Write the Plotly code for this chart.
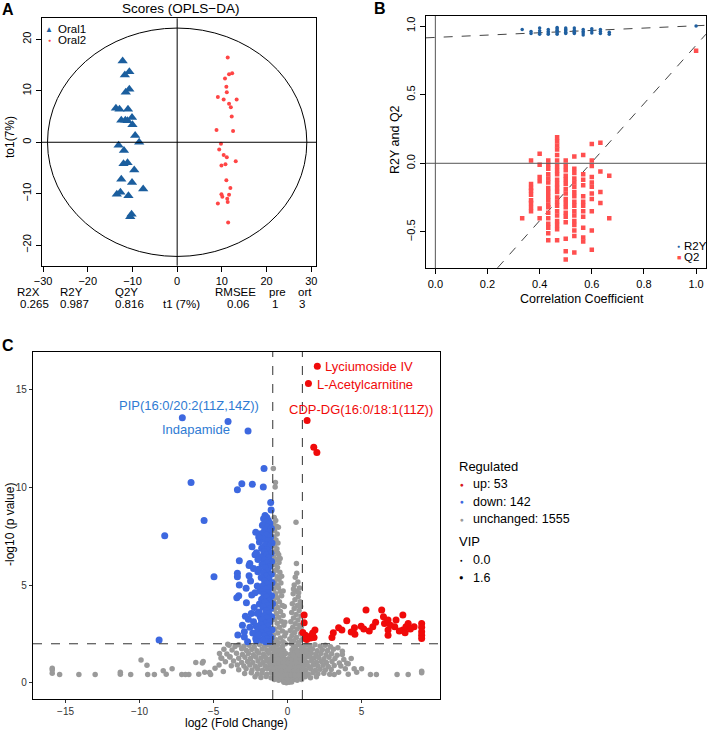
import plotly.graph_objects as go

W, H = 708, 734
FONT = "Liberation Sans, Arial, Helvetica, sans-serif"

# ---------------- Panel A: OPLS-DA scores ----------------
oral1_t1 = [-12.2, -10.7, -11.7, -10.7, -11.5, -13.7, -12.9, -11.0, -12.5, -11.6,
            -11.1, -10.1, -10.0, -9.4, -8.5, -13.1, -11.9, -12.0, -11.1, -9.6,
            -12.5, -10.1, -7.6, -13.5, -12.7, -10.9, -10.2, -10.5]
oral1_to1 = [15.8, 13.7, 13.1, 10.3, 9.7, 6.6, 6.4, 6.4, 4.3, 4.3,
             4.2, 4.8, 3.4, 1.3, 0.0, -0.6, -1.6, -4.2, -4.0, -5.4,
             -7.2, -7.8, -9.1, -10.1, -9.7, -10.4, -14.0, -14.5]
oral2_t1 = [11.3, 11.6, 12.3, 10.7, 11.0, 11.1, 9.1, 10.4, 13.3, 11.6,
            12.0, 12.2, 8.8, 12.5, 9.8, 9.4, 10.4, 11.1, 9.9, 10.8,
            13.1, 11.0, 11.9, 9.9, 10.1, 11.6, 11.2, 11.3, 9.1, 11.4]
oral2_to1 = [16.5, 13.2, 13.4, 12.4, 10.8, 9.7, 8.8, 8.3, 8.3, 7.5,
             6.8, 5.0, 2.4, 2.2, -0.3, -1.4, -2.5, -2.9, -4.5, -4.3,
             -3.7, -7.4, -8.9, -10.1, -10.6, -10.2, -11.0, -11.6, -11.9, -15.6]
ellipse_rx = 29.0
ellipse_ry = 22.2
stat_names = ["R2X", "R2Y", "Q2Y", "RMSEE", "pre", "ort"]
stat_values = ["0.265", "0.987", "0.816", "0.06", "1", "3"]

# ---------------- Panel B: permutation test ----------------
r2y_cor = [0.333, 0.367, 0.367, 0.4, 0.4, 0.4, 0.4, 0.433, 0.433, 0.433, 0.433,
           0.467, 0.467, 0.467, 0.467, 0.467, 0.467, 0.5, 0.5, 0.5, 0.5, 0.5,
           0.533, 0.533, 0.533, 0.533, 0.567, 0.567, 0.567, 0.567,
           0.6, 0.6, 0.6, 0.633, 0.633, 0.633, 0.667, 0.667, 1.0]
r2y_val = [0.975, 0.96, 0.945, 0.985, 0.965, 0.95, 0.94, 0.975, 0.96, 0.95, 0.94,
           0.99, 0.98, 0.97, 0.96, 0.95, 0.94, 0.985, 0.975, 0.965, 0.955, 0.945,
           0.985, 0.97, 0.955, 0.945, 0.975, 0.96, 0.95, 0.935,
           0.98, 0.965, 0.95, 0.975, 0.96, 0.945, 0.955, 0.94, 1.0]
q2_cor = ([0.333] + [0.367] * 9 + [0.4] * 6 + [0.433] * 18 + [0.467] * 22 +
          [0.5] * 17 + [0.533] * 17 + [0.567] * 12 + [0.6] * 11 + [0.633] * 4 +
          [0.667] * 2 + [1.0])
q2_val = [-0.40,
          0.02, -0.15, -0.18, -0.20, -0.23, -0.27, -0.29, -0.32, -0.35,
          0.07, -0.01, -0.10, -0.13, -0.33, -0.40,
          0.02, -0.01, -0.04, -0.08, -0.11, -0.14, -0.18, -0.21, -0.24, -0.27,
          -0.30, -0.32, -0.36, -0.40, -0.44, -0.47, -0.51, -0.56,
          0.19, 0.16, 0.13, 0.10, 0.06, 0.02, -0.02, -0.05, -0.08, -0.12, -0.15,
          -0.18, -0.21, -0.25, -0.28, -0.31, -0.35, -0.38, -0.42, -0.45, -0.48, -0.56,
          0.02, -0.02, -0.05, -0.09, -0.12, -0.15, -0.19, -0.22, -0.26, -0.29,
          -0.32, -0.36, -0.39, -0.43, -0.55, -0.64, -0.70,
          0.05, -0.04, -0.07, -0.11, -0.14, -0.17, -0.21, -0.24, -0.28, -0.31,
          -0.35, -0.38, -0.42, -0.45, -0.49, -0.53, -0.65,
          0.06, -0.08, -0.12, -0.16, -0.24, -0.28, -0.31, -0.35, -0.39, -0.47, -0.54, -0.57,
          0.14, 0.02, -0.02, -0.10, -0.14, -0.17, -0.22, -0.26, -0.35, -0.49, -0.63,
          0.15, -0.06, -0.21, -0.29,
          -0.09, -0.40,
          0.82]
r2y_intercept, r2y_slope = 0.917, 0.085
q2_intercept, q2_slope = -1.27, 2.13

# ---------------- Panel C: volcano ----------------
fc_threshold = 1.0
p_threshold = 2.0
regulated_names = ["up", "down", "unchanged"]
regulated_counts = [53, 142, 1555]
vip_levels = ["0.0", "1.6"]

up_points = [
    (2.01, 16.17), (1.41, 15.29), (1.32, 13.40), (1.77, 12.04), (1.98, 11.77),
    (1.12, 3.47), (1.12, 3.08), (1.21, 2.44), (1.21, 2.27), (1.42, 2.35), (1.64, 2.44),
    (1.79, 2.32), (1.85, 2.70), (1.03, 2.57), (1.55, 2.30), (1.30, 2.22), (1.70, 2.55),
    (3.00, 2.32), (3.09, 2.56), (3.45, 2.82), (3.67, 2.70), (4.00, 3.18), (4.52, 2.82),
    (4.55, 2.49), (4.97, 2.90), (5.15, 2.75), (5.30, 3.73), (5.52, 2.65), (5.76, 2.87),
    (6.36, 3.73), (6.48, 3.38), (6.55, 3.04), (6.79, 3.21), (6.79, 2.70), (6.79, 2.44),
    (7.24, 2.87), (7.33, 3.21), (7.79, 3.47), (7.79, 2.70), (7.94, 2.56), (8.00, 2.87),
    (8.15, 3.04), (8.55, 2.87), (9.06, 3.04), (9.06, 2.84), (9.06, 2.61), (9.06, 2.44),
    (9.06, 2.27), (8.30, 2.75), (7.55, 2.65), (6.95, 2.95), (5.95, 3.10), (4.30, 2.60),
]

down_points = [
    (-7.11, 13.54), (-4.02, 13.35), (-2.67, 12.87), (-1.59, 10.95), (-6.52, 10.24),
    (-3.09, 10.17), (-2.38, 10.15), (-3.39, 9.86), (-1.64, 10.00), (-1.14, 9.22),
    (-1.11, 8.83), (-5.64, 8.30), (-8.30, 7.52),
    (-4.97, 5.42), (-8.68, 2.19), (-3.26, 6.24), (-3.39, 5.60), (-3.39, 5.42), (-2.60, 6.00),
    (-2.55, 6.10), (-2.10, 6.65), (-2.20, 6.55), (-2.60, 5.47), (-3.26, 5.00), (-2.80, 4.83),
    (-3.43, 4.35), (-3.30, 4.45), (-2.78, 4.10), (-2.42, 4.49), (-2.01, 5.68), (-1.90, 4.03),
    (-3.36, 2.45), (-2.92, 2.35), (-2.92, 2.62), (-2.30, 3.13), (-2.12, 2.90), (-2.00, 2.70),
    (-1.85, 3.38), (-1.76, 3.21), (-2.15, 2.27), (-2.00, 2.35),
    (-1.52, 8.55), (-1.40, 8.45), (-1.62, 8.38), (-1.30, 8.30), (-1.48, 8.20), (-1.20, 8.15),
    (-1.70, 8.05), (-1.35, 7.95), (-1.10, 7.90), (-1.55, 7.80), (-1.25, 7.70), (-1.80, 7.62),
    (-1.42, 7.55), (-1.15, 7.45), (-1.65, 7.35), (-1.32, 7.28), (-1.90, 7.20), (-1.05, 7.15),
    (-1.50, 7.05), (-1.22, 6.95), (-1.75, 6.88), (-1.38, 6.80), (-1.60, 6.70), (-1.12, 6.62),
    (-1.45, 6.52), (-1.85, 6.45), (-1.28, 6.38), (-1.58, 6.28), (-1.08, 6.20), (-1.40, 6.12),
    (-1.72, 6.05), (-1.20, 5.95), (-1.52, 5.88), (-1.95, 5.80), (-1.33, 5.72), (-1.62, 5.62),
    (-1.10, 5.55), (-1.45, 5.45), (-1.78, 5.38), (-1.25, 5.30), (-1.55, 5.20), (-1.05, 5.12),
    (-1.38, 5.05), (-1.68, 4.95), (-1.18, 4.88), (-1.48, 4.78), (-1.88, 4.70), (-1.30, 4.62),
    (-1.60, 4.52), (-1.08, 4.45), (-1.42, 4.38), (-1.75, 4.28), (-1.22, 4.20), (-1.52, 4.12),
    (-1.02, 4.05), (-1.35, 3.95), (-1.65, 3.88), (-1.15, 3.80), (-1.45, 3.70), (-1.92, 3.62),
    (-1.28, 3.55), (-1.58, 3.45), (-1.08, 3.38), (-1.40, 3.30), (-1.72, 3.22), (-1.20, 3.12),
    (-1.50, 3.05), (-1.82, 2.98), (-1.32, 2.90), (-1.62, 2.80), (-1.05, 2.72), (-1.42, 2.65),
    (-1.75, 2.55), (-1.25, 2.48), (-1.55, 2.40), (-1.12, 2.32), (-1.38, 2.25), (-1.68, 2.18),
    (-1.20, 2.12), (-1.48, 2.10),
    (-2.45, 3.55), (-2.25, 3.85), (-2.65, 3.25), (-2.35, 2.55), (-2.55, 2.85), (-2.05, 3.55),
    (-2.20, 4.60), (-2.50, 5.20), (-2.05, 4.95), (-2.30, 5.85), (-2.00, 6.30), (-1.95, 7.45),
    (-2.10, 2.15), (-2.70, 2.10), (-3.05, 2.95), (-2.85, 3.40), (-1.98, 2.45), (-2.40, 6.95),
    (-2.15, 7.70),
]

unchanged_points = [
    # sparse, far from zero
    (-15.9, 0.75), (-15.9, 0.66), (-15.9, 0.49), (-15.4, 0.43), (-14.1, 0.43), (-13.0, 0.43),
    (-11.3, 0.55), (-11.3, 0.45), (-10.6, 0.43), (-9.9, 1.17), (-9.5, 0.90), (-9.45, 0.43),
    (-9.0, 0.43), (-8.4, 0.62), (-8.2, 0.45), (-7.8, 0.72), (-7.15, 0.43), (-6.9, 0.43),
    (-6.67, 0.43), (-6.2, 1.05), (-5.76, 1.02), (-6.0, 0.45), (-5.6, 0.55), (-5.2, 0.43),
    (-5.7, 1.09), (-5.28, 0.53), (-4.9, 0.75), (-4.63, 0.92), (-4.45, 1.26), (-4.34, 0.58),
    (-4.04, 1.97), (-3.89, 1.34), (-4.6, 1.50),
    (3.15, 0.43), (3.45, 0.55), (3.9, 0.72), (4.0, 1.0), (4.3, 1.25), (4.5, 0.72), (4.67, 0.55),
    (5.0, 0.72), (5.6, 0.43), (6.0, 0.43), (7.4, 0.43), (8.15, 0.43), (9.06, 0.60), (9.06, 0.52),
    (3.7, 1.45), (4.1, 0.45),
    # dense lower cloud
    (-3.95, 1.92), (-3.55, 1.86), (-3.30, 1.95), (-2.95, 1.88), (-2.60, 1.93), (-2.25, 1.85),
    (-1.90, 1.96), (-1.55, 1.89), (-1.30, 1.94), (-0.95, 1.87), (-0.70, 1.92), (-0.35, 1.86),
    (0.40, 1.90), (0.70, 1.95), (0.95, 1.86), (1.25, 1.93), (1.50, 1.88), (1.85, 1.95),
    (2.20, 1.87), (2.55, 1.92), (2.90, 1.85), (3.40, 1.80),
    (-4.30, 1.72), (-3.75, 1.68), (-3.10, 1.74), (-2.78, 1.66), (-2.42, 1.71), (-2.08, 1.64),
    (-1.72, 1.73), (-1.40, 1.67), (-1.10, 1.75), (-0.80, 1.69), (-0.50, 1.72), (-0.25, 1.65),
    (0.30, 1.70), (0.55, 1.74), (0.82, 1.66), (1.10, 1.71), (1.38, 1.67), (1.68, 1.73),
    (2.00, 1.65), (2.35, 1.70), (2.70, 1.66), (3.10, 1.72), (3.70, 1.62),
    (-4.10, 1.48), (-3.45, 1.52), (-3.05, 1.45), (-2.65, 1.50), (-2.30, 1.44), (-1.95, 1.53),
    (-1.62, 1.47), (-1.28, 1.51), (-0.98, 1.45), (-0.68, 1.52), (-0.40, 1.46), (-0.12, 1.50),
    (0.20, 1.47), (0.48, 1.53), (0.75, 1.45), (1.02, 1.50), (1.30, 1.44), (1.60, 1.52),
    (1.92, 1.46), (2.25, 1.50), (2.60, 1.44), (2.98, 1.49), (3.35, 1.42),
    (-4.50, 1.28), (-3.90, 1.32), (-3.30, 1.26), (-2.88, 1.31), (-2.50, 1.25), (-2.15, 1.33),
    (-1.80, 1.27), (-1.48, 1.30), (-1.15, 1.24), (-0.85, 1.32), (-0.55, 1.26), (-0.28, 1.30),
    (0.05, 1.24), (0.32, 1.31), (0.60, 1.25), (0.90, 1.30), (1.18, 1.26), (1.48, 1.33),
    (1.78, 1.27), (2.10, 1.30), (2.45, 1.24), (2.80, 1.31), (3.20, 1.25), (3.80, 1.20),
    (-4.20, 1.08), (-3.65, 1.12), (-3.10, 1.05), (-2.70, 1.10), (-2.35, 1.04), (-2.00, 1.12),
    (-1.65, 1.06), (-1.35, 1.11), (-1.02, 1.04), (-0.72, 1.10), (-0.42, 1.05), (-0.15, 1.12),
    (0.15, 1.06), (0.45, 1.11), (0.72, 1.04), (1.00, 1.09), (1.32, 1.05), (1.62, 1.12),
    (1.95, 1.06), (2.28, 1.10), (2.62, 1.04), (3.00, 1.09), (3.50, 1.02), (4.10, 0.98),
    (-3.80, 0.88), (-3.40, 0.92), (-2.95, 0.86), (-2.55, 0.91), (-2.18, 0.85), (-1.85, 0.93),
    (-1.52, 0.87), (-1.20, 0.90), (-0.90, 0.84), (-0.60, 0.92), (-0.32, 0.86), (-0.05, 0.90),
    (0.25, 0.85), (0.55, 0.92), (0.85, 0.86), (1.12, 0.91), (1.42, 0.85), (1.75, 0.92),
    (2.05, 0.86), (2.40, 0.90), (2.75, 0.84), (3.15, 0.89), (3.60, 0.86),
    (-3.30, 0.68), (-2.80, 0.72), (-2.40, 0.66), (-2.02, 0.71), (-1.70, 0.65), (-1.38, 0.72),
    (-1.08, 0.67), (-0.78, 0.70), (-0.50, 0.64), (-0.22, 0.71), (0.08, 0.66), (0.35, 0.72),
    (0.62, 0.65), (0.92, 0.70), (1.22, 0.66), (1.55, 0.72), (1.88, 0.65), (2.20, 0.70),
    (2.55, 0.66), (2.95, 0.69),
    (-2.90, 0.48), (-2.45, 0.52), (-2.05, 0.46), (-1.72, 0.51), (-1.40, 0.45), (-1.10, 0.52),
    (-0.82, 0.47), (-0.55, 0.50), (-0.28, 0.44), (0.00, 0.51), (0.28, 0.46), (0.55, 0.52),
    (0.82, 0.45), (1.10, 0.50), (1.40, 0.46), (1.72, 0.52), (2.05, 0.47), (2.45, 0.50),
    (2.85, 0.45),
    (-2.20, 0.32), (-1.80, 0.28), (-1.45, 0.33), (-1.12, 0.27), (-0.85, 0.31), (-0.58, 0.26),
    (-0.35, 0.32), (-0.12, 0.27), (0.12, 0.31), (0.38, 0.26), (0.62, 0.32), (0.90, 0.28),
    (1.20, 0.31), (1.55, 0.27), (1.95, 0.32),
    (-0.90, 0.18), (-0.60, 0.14), (-0.40, 0.17), (-0.20, 0.12), (0.02, 0.16), (0.22, 0.11),
    (0.42, 0.17), (0.65, 0.14), (0.95, 0.18),
    (-0.25, 0.04), (-0.08, 0.01), (0.10, 0.03), (0.28, 0.05),
    (-1.25, 1.60), (-0.88, 1.58), (-0.55, 1.62), (0.62, 1.60), (0.95, 1.58), (1.25, 1.60),
    (-1.00, 1.40), (-0.75, 1.38), (-0.45, 1.40), (0.35, 1.40), (0.65, 1.38), (0.90, 1.40),
    (-1.30, 1.20), (-0.98, 1.18), (-0.62, 1.20), (-0.30, 1.19), (0.28, 1.18), (0.58, 1.20),
    (0.85, 1.19), (-1.15, 1.00), (-0.85, 0.98), (-0.58, 1.00), (-0.28, 0.99), (0.05, 1.00),
    (0.32, 0.98), (0.62, 1.00), (0.88, 0.99), (-1.05, 0.80), (-0.75, 0.78), (-0.45, 0.80),
    (-0.15, 0.79), (0.18, 0.80), (0.48, 0.78), (0.78, 0.80), (1.05, 0.79), (-0.95, 0.60),
    (-0.68, 0.58), (-0.40, 0.60), (-0.12, 0.59), (0.15, 0.60), (0.42, 0.58), (0.70, 0.60),
    (0.98, 0.59), (-0.70, 0.40), (-0.45, 0.38), (-0.20, 0.40), (0.05, 0.39), (0.25, 0.40),
    (0.50, 0.38), (0.75, 0.40),
    # left arm
    (-0.96, 10.95), (-0.82, 10.24), (-0.84, 10.00), (-0.90, 8.45), (-0.80, 8.30), (-0.95, 8.15),
    (-0.75, 8.00), (-0.88, 7.80), (-0.70, 7.60), (-0.92, 7.45), (-0.78, 7.30), (-0.65, 7.15),
    (-0.90, 7.00), (-0.72, 6.85), (-0.84, 6.70), (-0.60, 6.55), (-0.95, 6.45), (-0.75, 6.30),
    (-0.58, 6.15), (-0.88, 6.05), (-0.68, 5.90), (-0.80, 5.75), (-0.52, 5.65), (-0.95, 5.55),
    (-0.70, 5.42), (-0.58, 5.30), (-0.85, 5.20), (-0.45, 5.10), (-0.75, 5.00), (-0.62, 4.88),
    (-0.92, 4.78), (-0.50, 4.68), (-0.80, 4.55), (-0.40, 4.45), (-0.68, 4.35), (-0.95, 4.25),
    (-0.55, 4.15), (-0.82, 4.05), (-0.35, 3.95), (-0.65, 3.85), (-0.90, 3.75), (-0.48, 3.65),
    (-0.75, 3.55), (-0.30, 3.45), (-0.60, 3.35), (-0.88, 3.25), (-0.42, 3.15), (-0.70, 3.05),
    (-0.25, 2.95), (-0.55, 2.85), (-0.85, 2.75), (-0.35, 2.65), (-0.65, 2.55), (-0.95, 2.45),
    (-0.20, 2.40), (-0.48, 2.30), (-0.78, 2.20), (-0.30, 2.10), (-0.62, 2.05), (-0.92, 2.02),
    (-0.15, 2.00), (-0.62, 7.95), (-0.85, 7.10), (-0.50, 6.35), (-0.68, 6.65), (-0.40, 5.45),
    (-0.30, 4.70), (-0.22, 3.90), (-0.18, 3.10), (-0.12, 2.55), (-0.98, 3.35), (-0.98, 5.10),
    (-0.98, 6.10), (-0.97, 7.30),
    # right arm
    (0.57, 8.20), (0.60, 6.10), (0.62, 5.60), (0.52, 5.40), (0.70, 5.15), (0.45, 5.00),
    (0.80, 4.85), (0.58, 4.70), (0.38, 4.55), (0.72, 4.40), (0.50, 4.25), (0.85, 4.15),
    (0.32, 4.05), (0.65, 3.95), (0.45, 3.80), (0.78, 3.70), (0.28, 3.60), (0.58, 3.50),
    (0.90, 3.42), (0.40, 3.32), (0.70, 3.22), (0.22, 3.12), (0.52, 3.02), (0.82, 2.95),
    (0.35, 2.85), (0.65, 2.75), (0.18, 2.68), (0.48, 2.58), (0.88, 2.50), (0.30, 2.42),
    (0.60, 2.32), (0.15, 2.25), (0.42, 2.15), (0.75, 2.08), (0.25, 2.02), (0.95, 2.20),
    (0.92, 2.85), (0.88, 3.90), (0.40, 4.80), (0.75, 4.60),
]

volcano_labels = [
    # (text, index into up/down list, group)
    ("Lyciumoside IV", 0, "up"),
    ("L-Acetylcarnitine", 1, "up"),
    ("CDP-DG(16:0/18:1(11Z))", 2, "up"),
    ("PIP(16:0/20:2(11Z,14Z))", 0, "down"),
    ("Indapamide", 1, "down"),
]

# ---------------- colours ----------------
C_ORAL1 = "#1B5E9E"
C_ORAL2 = "#FF4545"
C_R2Y = "#1F5FA0"
C_Q2 = "#FF4F4F"
C_UP = "#F00A0A"
C_DOWN = "#3D68E0"
C_UNCH = "#9A9A9A"
C_DOWN_TXT = "#2F7BD3"


def px(x):
    return x / W


def py(y):
    return 1 - y / H


fig = go.Figure()

# Panel A
fig.add_trace(go.Scatter(x=oral1_t1, y=oral1_to1, mode="markers", xaxis="x", yaxis="y",
                         marker=dict(symbol="triangle-up", size=9, color=C_ORAL1),
                         showlegend=False, name="Oral1"))
fig.add_trace(go.Scatter(x=oral2_t1, y=oral2_to1, mode="markers", xaxis="x", yaxis="y",
                         marker=dict(symbol="circle", size=4, color=C_ORAL2),
                         showlegend=False, name="Oral2"))

# Panel B
XB = [-0.037, 1.038]
YB = [-0.765, 1.073]
fig.add_trace(go.Scatter(x=XB, y=[r2y_intercept + r2y_slope * v for v in XB], mode="lines",
                         xaxis="x2", yaxis="y2", line=dict(color="#444", width=1, dash="dash"),
                         showlegend=False, hoverinfo="skip"))
fig.add_trace(go.Scatter(x=XB, y=[q2_intercept + q2_slope * v for v in XB], mode="lines",
                         xaxis="x2", yaxis="y2", line=dict(color="#444", width=1, dash="dash"),
                         showlegend=False, hoverinfo="skip"))
fig.add_trace(go.Scatter(x=r2y_cor, y=r2y_val, mode="markers", xaxis="x2", yaxis="y2",
                         marker=dict(symbol="circle", size=3.5, color=C_R2Y),
                         showlegend=False, name="R2Y"))
fig.add_trace(go.Scatter(x=q2_cor, y=q2_val, mode="markers", xaxis="x2", yaxis="y2",
                         marker=dict(symbol="square", size=4.5, color=C_Q2),
                         showlegend=False, name="Q2"))

# Panel C
for pts, col, size, name in [(unchanged_points, C_UNCH, 5.5, "unchanged"),
                             (down_points, C_DOWN, 7, "down"),
                             (up_points, C_UP, 7, "up")]:
    fig.add_trace(go.Scatter(x=[p[0] for p in pts], y=[p[1] for p in pts], mode="markers",
                             xaxis="x3", yaxis="y3",
                             marker=dict(size=size, color=col, line=dict(width=0)),
                             showlegend=False, name=name))

axis_common = dict(showgrid=False, zeroline=False, showline=True, mirror=True,
                   linecolor="black", linewidth=1, ticks="outside", ticklen=5,
                   tickcolor="black", automargin=False,
                   tickfont=dict(size=11, color="black", family=FONT))
axis_c = dict(showgrid=False, zeroline=False, showline=True, mirror=True,
              linecolor="black", linewidth=1.3, ticks="outside", ticklen=3,
              tickcolor="#333", automargin=False,
              tickfont=dict(size=10, color="#333", family=FONT))

fig.update_layout(
    template="none",
    width=W, height=H, margin=dict(l=0, r=0, t=0, b=0, pad=0), autosize=False,
    paper_bgcolor="white", plot_bgcolor="white",
    font=dict(family=FONT, color="black"),
    showlegend=False,
    xaxis=dict(domain=[px(41.7), px(316)], range=[-30.3, 31.05], anchor="y",
               tickvals=[-30, -20, -10, 0, 10, 20, 30], **axis_common),
    yaxis=dict(domain=[py(265.7), py(18.3)], range=[-24.0, 24.1], anchor="x",
               tickvals=[-20, -10, 0, 10, 20], tickangle=-90, **axis_common),
    xaxis2=dict(domain=[px(425.7), px(706)], range=XB, anchor="y2",
                tickvals=[0, 0.2, 0.4, 0.6, 0.8, 1.0], tickformat=".1f", **axis_common),
    yaxis2=dict(domain=[py(268.3), py(16)], range=YB, anchor="x2",
                tickvals=[-0.5, 0, 0.5, 1.0], tickformat=".1f", tickangle=-90, **axis_common),
    xaxis3=dict(domain=[px(33), px(440)], range=[-17.2, 10.3], anchor="y3",
                tickvals=[-15, -10, -5, 0, 5], **axis_c),
    yaxis3=dict(domain=[py(699), py(352)], range=[-0.82, 16.9], anchor="x3",
                tickvals=[0, 5, 10, 15], **axis_c),
)

shapes = [
    dict(type="circle", xref="x", yref="y", x0=-ellipse_rx, x1=ellipse_rx,
         y0=-ellipse_ry, y1=ellipse_ry, line=dict(color="black", width=1)),
    dict(type="line", xref="x", yref="y domain", x0=0, x1=0, y0=0, y1=1,
         line=dict(color="black", width=1)),
    dict(type="line", xref="x domain", yref="y", x0=0, x1=1, y0=0, y1=0,
         line=dict(color="black", width=1)),
    dict(type="line", xref="x2", yref="y2 domain", x0=0, x1=0, y0=0, y1=1,
         line=dict(color="#555", width=1)),
    dict(type="line", xref="x2 domain", yref="y2", x0=0, x1=1, y0=0, y1=0,
         line=dict(color="#555", width=1)),
    dict(type="line", xref="x3", yref="y3 domain", x0=-fc_threshold, x1=-fc_threshold, y0=0, y1=1,
         line=dict(color="#333", width=1, dash="dash")),
    dict(type="line", xref="x3", yref="y3 domain", x0=fc_threshold, x1=fc_threshold, y0=0, y1=1,
         line=dict(color="#333", width=1, dash="dash")),
    dict(type="line", xref="x3 domain", yref="y3", x0=0, x1=1, y0=p_threshold, y1=p_threshold,
         line=dict(color="#333", width=1, dash="dash")),
]


def ann(text, x, y, size=11, color="black", xanchor="center", yanchor="middle", angle=0):
    return dict(text=text, x=px(x), y=py(y), xref="paper", yref="paper", showarrow=False,
                font=dict(size=size, color=color, family=FONT), xanchor=xanchor,
                yanchor=yanchor, textangle=angle)


anns = [
    ann("<b>A</b>", 8, 10, size=16),
    ann("Scores (OPLS−DA)", 180, 8, size=13.5),
    ann("to1(7%)", 10, 137, size=12, angle=-90),
    ann("<b>B</b>", 380, 8, size=16),
    ann("R2Y and Q2", 395, 140, size=12.5, angle=-90),
    ann("Correlation Coefficient", 582, 299, size=12.5),
    ann("<b>C</b>", 8, 345, size=16),
    ann("-log10 (p value)", 10, 525, size=12, angle=-90),
    ann("log2 (Fold Change)", 236, 723, size=12),
    # legend A
    ann("▲", 49.3, 29.3, size=8, color=C_ORAL1),
    ann("Oral1", 56, 29.0, size=11.5, xanchor="left"),
    ann("●", 49.3, 40.0, size=5, color=C_ORAL2),
    ann("Oral2", 56, 40.5, size=11.5, xanchor="left"),
    # legend B
    ann("●", 678.5, 246.0, size=5, color=C_R2Y),
    ann("R2Y", 682, 245.7, size=11.5, xanchor="left"),
    ann("■", 678.5, 257.5, size=7, color=C_Q2),
    ann("Q2", 682, 257.3, size=11.5, xanchor="left"),
    # x-title A
    ann("t1 (7%)", 181, 304, size=11.5),
    # legend C
    ann("Regulated", 457, 466, size=13, xanchor="left"),
    ann("VIP", 457, 541, size=13, xanchor="left"),
]

stat_x_names = [28.7, 71.7, 126.3, 235.3, 277.7, 305]
stat_x_vals = [34, 74.3, 129.3, 238, 275.3, 301.7]
for name, xn in zip(stat_names, stat_x_names):
    anns.append(ann(name, xn, 292, size=11.5))
for val, xv in zip(stat_values, stat_x_vals):
    anns.append(ann(val, xv, 304, size=11.5))

reg_colors = ["#D7191C", C_DOWN, C_UNCH]
for i, (nm, cnt, col) in enumerate(zip(regulated_names, regulated_counts, reg_colors)):
    yy = 484 + i * 17.6
    anns.append(ann("●", 461.5, yy, size=6.5, color=col))
    anns.append(ann(f"{nm}: {cnt}", 471, yy, size=12.5, xanchor="left"))
for i, (lv, gs) in enumerate(zip(vip_levels, [4.5, 7.5])):
    yy = 560 + i * 17.6
    anns.append(ann("●", 461.5, yy, size=gs, color="black"))
    anns.append(ann(lv, 471, yy, size=12.5, xanchor="left"))

# volcano point labels (anchored at their points)
label_offsets = {
    "Lyciumoside IV": ("left", 6, 0),
    "L-Acetylcarnitine": ("left", 7, -1),
    "CDP-DG(16:0/18:1(11Z))": ("center", 54, 11),
    "PIP(16:0/20:2(11Z,14Z))": ("center", 7, 12),
    "Indapamide": ("center", -32, -8),
}
for text, idx, grp in volcano_labels:
    pt = up_points[idx] if grp == "up" else down_points[idx]
    xa, xs, ys = label_offsets[text]
    anns.append(dict(text=text, x=pt[0], y=pt[1], xref="x3", yref="y3", showarrow=False,
                     xanchor=xa, yanchor="middle", xshift=xs, yshift=ys,
                     font=dict(size=13, family=FONT, color=C_UP if grp == "up" else C_DOWN_TXT)))

fig.update_layout(shapes=shapes, annotations=anns)
fig.write_html("out.html", config={"displayModeBar": False},
               post_script="document.body.style.margin='0px';")
